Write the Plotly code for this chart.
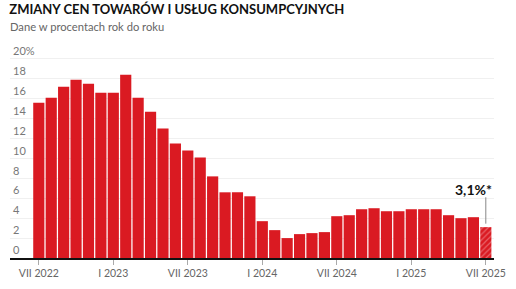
import plotly.graph_objects as go

months = ["VII 2022","VIII 2022","IX 2022","X 2022","XI 2022","XII 2022",
          "I 2023","II 2023","III 2023","IV 2023","V 2023","VI 2023",
          "VII 2023","VIII 2023","IX 2023","X 2023","XI 2023","XII 2023",
          "I 2024","II 2024","III 2024","IV 2024","V 2024","VI 2024",
          "VII 2024","VIII 2024","IX 2024","X 2024","XI 2024","XII 2024",
          "I 2025","II 2025","III 2025","IV 2025","V 2025","VI 2025","VII 2025"]
cpi = [15.6, 16.1, 17.2, 17.9, 17.5, 16.6,
       16.6, 18.4, 16.1, 14.7, 13.0, 11.5,
       10.8, 10.1, 8.2, 6.6, 6.6, 6.2,
       3.7, 2.8, 2.0, 2.4, 2.5, 2.6,
       4.2, 4.3, 4.9, 5.0, 4.7, 4.7,
       4.9, 4.9, 4.9, 4.3, 4.0, 4.1, 3.1]
tick_idx = [0, 6, 12, 18, 24, 30, 36]
tick_text = ["VII 2022", "I 2023", "VII 2023", "I 2024", "VII 2024", "I 2025", "VII 2025"]
y_ticks = [0, 2, 4, 6, 8, 10, 12, 14, 16, 18, 20]
y_text = ["0", "2", "4", "6", "8", "10", "12", "14", "16", "18", "20%"]
last_label = "3,1%*"

RED = "#da1a22"
n = len(cpi)
x = list(range(n))

fig = go.Figure()
fig.add_trace(go.Bar(x=x[:-1], y=cpi[:-1], marker=dict(color=RED, line=dict(width=0)),
                     width=0.9, hoverinfo="skip"))
fig.add_trace(go.Bar(x=[x[-1]], y=[cpi[-1]], width=0.9, hoverinfo="skip",
                     marker=dict(color=RED, line=dict(width=0),
                                 pattern=dict(shape="/", fgcolor="#f6a9ad", bgcolor=RED,
                                              size=4, solidity=0.3))))

fig.add_shape(type="line", xref="x", yref="y", x0=x[-1], x1=x[-1],
              y0=cpi[-1] + 0.35, y1=cpi[-1] + 3.0,
              line=dict(color="#888888", width=1))
fig.add_annotation(xref="paper", x=1.0, xanchor="right", yref="y", y=cpi[-1] + 3.0,
                   yanchor="bottom", text="<b>" + last_label + "</b>", showarrow=False,
                   font=dict(family="Lato", size=14, color="#111111"), yshift=-3)

fig.add_annotation(xref="paper", yref="paper", x=0, y=1.084, xanchor="left", yanchor="middle",
                   text="Dane w procentach rok do roku", xshift=-2,
                   showarrow=False, font=dict(family="Lato", size=11.2, color="#666666"))

fig.update_layout(
    width=516, height=289,
    margin=dict(l=10, r=11, t=44, b=30),
    paper_bgcolor="white", plot_bgcolor="white",
    showlegend=False, barmode="overlay",
    title=dict(text="<b>ZMIANY CEN TOWARÓW I USŁUG KONSUMPCYJNYCH</b>",
               x=0.018, xanchor="left", xref="container",
               y=0.966, yanchor="middle", yref="container",
               font=dict(family="Lato", size=13, color="#111111")),
    xaxis=dict(range=[-2.32, 36.66], tickvals=tick_idx, ticktext=tick_text,
               showgrid=False, showline=True, linecolor="#111111", linewidth=1.5,
               ticks="outside", ticklen=5, tickcolor="#aaaaaa", tickwidth=1,
               ticklabeloverflow="allow",
               tickfont=dict(family="Lato", size=10.5, color="#666666"), zeroline=False),
    yaxis=dict(range=[0, 21.5], tickvals=y_ticks, ticktext=y_text,
               ticklabelposition="inside top", showgrid=True, gridcolor="#f0f0f0",
               gridwidth=1, zeroline=False, showline=False,
               tickfont=dict(family="Lato", size=11, color="#777777")),
)

fig.write_html("out.html")
